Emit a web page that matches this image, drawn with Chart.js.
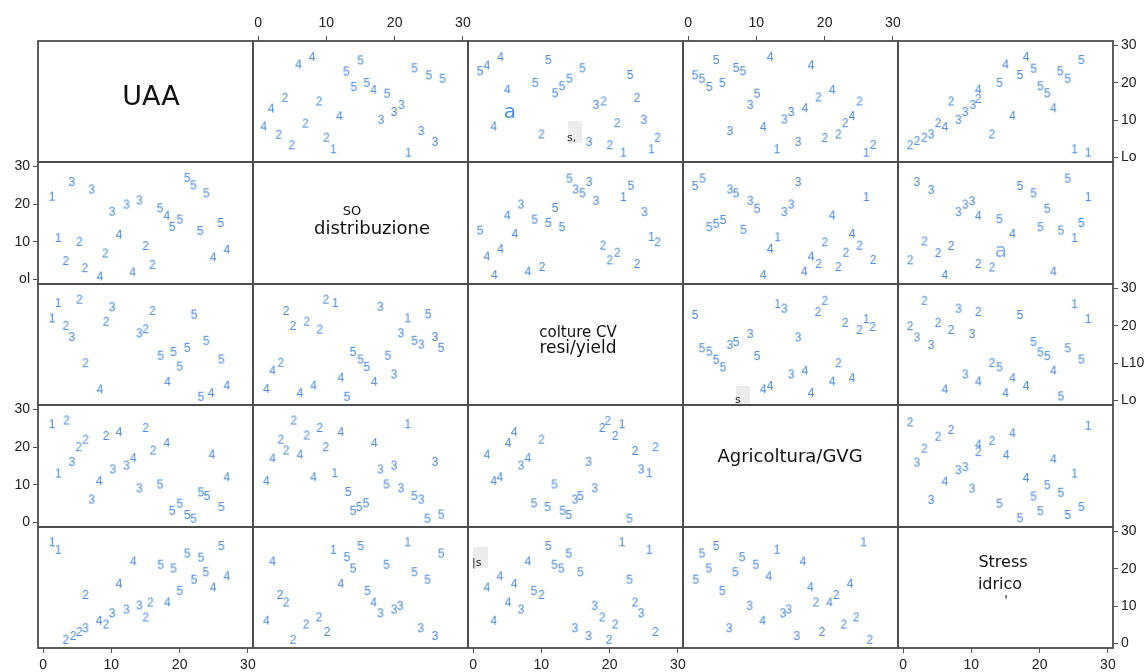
<!DOCTYPE html>
<html>
<head>
<meta charset="utf-8">
<script src="https://cdn.jsdelivr.net/npm/chart.js@4.4.0/dist/chart.umd.min.js"></script>
<style>
  body { margin: 0; background: #fff; width: 1145px; height: 672px; overflow: hidden; position: relative; }
  canvas { position: absolute; }
</style>
</head>
<body>
<script>
// scatterplot matrix: each point is drawn as its group digit (1-5)
const tickValues = [0, 10, 20, 30];
const bottomTicks = ['0', '10', '20', '30'];
const topTicks = ['0', '10', '20', '30'];
const rightTicks = [['Lo', '10', '20', '30'], null, ['Lo', 'L10', '20', '30'], null, ['0', '10', '20', '30']];
const leftTicks = [null, ['ol', '10', '20', '30'], null, ['0', '10', '20', '30'], null];

// upper panels, [x = column variable, y = row variable, group]
const uaaDistr = [[5.9,24.9,4],[7.9,26.9,4],[15.0,26.0,5],[12.9,23.0,5],[14.0,18.9,5],[15.9,20.0,5],[16.9,18.1,4],[18.9,17.1,5],[22.9,23.9,5],[25.0,22.0,5],[27.0,21.1,5],[3.9,16.0,2],[8.9,15.0,2],[1.9,13.1,4],[11.9,11.1,4],[18.0,10.1,3],[19.9,12.2,3],[21.0,14.1,3],[6.9,9.1,2],[0.8,8.3,4],[3.0,6.1,2],[4.9,3.3,2],[10.0,5.3,2],[11.0,2.2,1],[23.9,7.1,3],[25.9,4.2,3],[22.0,1.3,1]];
const uaaColture = [[1.0,23.1,5],[2.0,24.6,4],[4.0,26.9,4],[5.0,18.2,4],[11.0,26.1,5],[9.1,20.0,5],[16.0,23.9,5],[14.1,21.1,5],[13.0,19.1,5],[12.0,17.2,5],[23.0,22.1,5],[18.0,14.1,3],[19.1,15.0,2],[24.0,16.0,2],[25.0,10.1,3],[21.1,9.2,2],[3.0,8.3,4],[10.0,6.2,2],[17.0,4.2,3],[20.0,3.3,2],[22.0,1.3,1],[26.1,2.2,1],[27.0,5.3,2]];
const uaaAgri = [[4.1,26.1,5],[1.0,22.0,5],[2.0,21.1,5],[3.1,18.9,5],[5.0,20.0,5],[7.0,24.0,5],[8.0,23.1,5],[12.0,26.9,4],[18.0,24.7,4],[10.1,17.1,5],[9.1,14.1,3],[21.1,18.1,4],[19.1,16.1,2],[25.1,15.0,2],[17.1,13.2,4],[15.1,12.2,3],[14.1,10.2,3],[24.0,11.1,4],[23.0,9.2,2],[22.0,6.2,2],[20.0,5.2,2],[6.1,7.1,3],[11.0,8.2,4],[16.1,4.2,3],[13.0,2.2,1],[26.1,1.3,1],[27.1,3.4,2]];
const uaaStress = [[1.0,3.3,2],[2.0,4.4,2],[3.1,5.3,2],[4.1,6.2,3],[5.1,9.2,2],[6.1,8.2,4],[8.1,10.1,3],[9.1,12.2,3],[10.2,14.1,3],[11.0,15.7,2],[11.0,18.2,4],[7.0,15.0,2],[14.1,20.0,5],[15.0,24.9,4],[17.1,22.1,5],[18.0,26.9,4],[19.1,23.8,5],[20.1,19.1,5],[21.1,17.2,5],[23.0,23.1,5],[24.1,21.1,5],[26.1,26.1,5],[22.0,13.2,4],[16.0,11.1,4],[13.0,6.2,2],[25.1,2.2,1],[27.1,1.3,1]];
const distrColture = [[14.1,26.8,5],[17.0,25.9,3],[15.0,23.9,3],[16.0,22.9,5],[18.0,20.9,3],[22.0,21.9,1],[23.1,24.9,5],[25.1,17.9,3],[7.0,19.9,3],[5.0,17.0,4],[12.0,19.0,5],[9.0,15.9,5],[11.0,15.0,5],[13.0,13.9,5],[1.0,13.0,5],[6.1,12.1,4],[4.0,8.1,4],[2.0,6.1,4],[3.1,1.2,4],[8.0,2.1,4],[10.1,3.3,2],[19.0,9.0,2],[21.1,7.1,2],[20.0,5.1,2],[24.0,4.1,2],[26.1,11.3,1],[27.0,9.9,2]];
const distrAgri = [[1.0,24.8,5],[2.1,26.8,5],[6.1,23.9,3],[7.0,22.9,5],[9.1,20.9,3],[10.1,18.8,5],[16.1,25.9,3],[14.1,17.9,3],[15.1,19.9,3],[3.1,13.9,5],[4.1,14.8,5],[5.1,15.8,5],[8.1,13.2,5],[13.1,11.2,1],[12.0,8.1,4],[11.0,1.2,4],[21.1,17.0,4],[26.1,21.9,1],[20.0,9.9,2],[24.0,12.1,4],[25.1,9.0,2],[23.1,7.1,2],[18.0,6.1,4],[19.1,4.1,2],[22.0,3.3,2],[27.1,5.2,2],[17.0,2.1,4]];
const distrStress = [[2.0,25.9,3],[4.1,23.8,3],[8.1,17.9,3],[9.1,19.9,3],[10.1,20.8,3],[11.0,16.9,4],[14.1,16.0,5],[17.1,24.8,5],[19.1,22.9,5],[24.1,26.8,5],[27.1,21.9,1],[21.1,18.8,5],[20.1,13.9,5],[23.1,13.0,5],[26.1,15.0,5],[25.1,11.0,1],[16.0,12.1,4],[3.1,10.1,2],[5.1,7.0,2],[7.0,8.9,2],[1.0,5.1,2],[11.0,4.1,2],[13.0,3.2,2],[6.1,1.2,4],[22.0,2.1,4]];
const coltureAgri = [[1.0,22.9,5],[13.1,25.8,1],[14.1,24.6,3],[20.0,26.7,2],[19.0,23.7,2],[23.0,20.8,2],[25.1,18.9,2],[26.1,21.8,1],[27.0,19.7,2],[9.1,17.8,3],[6.1,14.9,3],[7.0,15.7,5],[16.1,16.9,3],[2.0,14.0,5],[3.1,13.1,5],[4.1,10.9,5],[5.1,8.9,5],[10.1,11.9,5],[15.1,7.0,3],[17.1,8.0,4],[22.0,10.0,2],[24.0,6.0,4],[21.1,5.1,4],[18.0,2.0,4],[11.0,3.0,4],[12.0,3.9,4]];
const coltureStress = [[3.1,26.7,2],[8.1,24.6,3],[11.0,23.7,2],[17.1,22.9,5],[25.1,25.8,1],[27.1,21.8,1],[1.0,19.9,2],[5.1,20.8,2],[7.0,18.9,2],[2.0,16.9,3],[4.1,14.9,3],[10.1,17.8,3],[19.1,15.7,5],[20.1,12.9,5],[21.1,11.9,5],[24.1,14.0,5],[26.1,11.0,5],[13.0,10.0,2],[14.1,8.9,5],[22.0,8.0,4],[9.1,7.0,3],[11.0,5.1,4],[16.0,6.0,4],[18.0,3.9,4],[6.1,3.0,4],[15.0,2.0,4],[23.1,1.1,5]];
const agriStress = [[1.0,26.6,2],[5.1,22.8,2],[7.0,24.6,2],[3.1,19.6,2],[2.0,15.9,3],[11.0,20.7,4],[11.0,18.7,2],[13.0,21.7,2],[16.0,23.7,4],[15.1,17.9,4],[8.1,13.9,3],[9.1,14.7,3],[6.1,10.9,4],[10.1,9.0,3],[4.1,6.0,3],[27.1,25.7,1],[22.0,16.8,4],[25.1,13.0,1],[18.0,11.8,4],[21.1,9.9,5],[23.1,7.9,5],[19.1,6.9,5],[14.1,5.0,5],[20.1,3.0,5],[17.1,1.1,5],[24.1,2.0,5],[26.1,4.1,5]];

const upper = {
  '0-1': uaaDistr, '0-2': uaaColture, '0-3': uaaAgri, '0-4': uaaStress,
  '1-2': distrColture, '1-3': distrAgri, '1-4': distrStress,
  '2-3': coltureAgri, '2-4': coltureStress, '3-4': agriStress
};
const groups = [1, 2, 3, 4, 5];

// layout
const colX = [38, 253, 468, 683, 898, 1113];
const rowY = [41, 162, 284, 405, 527, 648];
const M = 40;
const xRange = [-0.75, 30.75];
const yRange = [-1.2, 31.2];
const pointColor = '#4a8ad8';
const tickFont = { family: '"Liberation Sans", Arial, sans-serif', size: 14 };
const labelFont = '"DejaVu Sans", sans-serif';

const diagLabels = [
  [{ t: 'UAA', x: 113, y: 57, size: 27 }],
  [{ t: 'SO', x: 99, y: 50, size: 13 }, { t: 'distribuzione', x: 119, y: 67, size: 18 }],
  [{ t: 'colture CV', x: 110, y: 49, size: 15 }, { t: 'resi/yield', x: 110, y: 65, size: 17 }],
  [{ t: 'Agricoltura/GVG', x: 107, y: 52, size: 18 }],
  [{ t: 'Stress', x: 105, y: 36, size: 16 }, { t: 'idrico', x: 102, y: 58, size: 16 }, { t: "'", x: 108, y: 74, size: 13 }]
];

// stray marks seen on the picture (panel relative)
const extras = {
  '0-2': [{ box: [100, 80, 14, 22] }, { t: 'a', x: 42, y: 72, size: 20, color: '#4a90e2' }, { t: 's,', x: 99, y: 97, size: 11, color: '#222', align: 'left' }],
  '1-4': [{ t: 'a', x: 103, y: 90, size: 20, color: '#7fb0ee' }],
  '2-3': [{ box: [53, 102, 14, 19] }, { t: 's', x: 52, y: 116, size: 11, color: '#222', align: 'left' }],
  '4-2': [{ box: [5, 20, 15, 21] }, { t: '|s', x: 4, y: 36, size: 11, color: '#222', align: 'left' }]
};

const digitImgs = {};
groups.forEach(g => {
  const c = document.createElement('canvas');
  c.width = 10; c.height = 14;
  const cx = c.getContext('2d');
  cx.font = '12px "Liberation Sans", Arial, sans-serif';
  cx.fillStyle = pointColor;
  cx.textAlign = 'center';
  cx.textBaseline = 'middle';
  cx.fillText(String(g), 5, 7.5);
  digitImgs[g] = c;
});

function scaleCfg(pos, range, labels) {
  const show = !!labels;
  const vertical = pos === 'left' || pos === 'right';
  return {
    type: 'linear', position: pos, axis: vertical ? 'y' : 'x',
    min: range[0], max: range[1],
    afterBuildTicks: s => { s.ticks = tickValues.map(v => ({ value: v })); },
    afterFit: s => { if (vertical) s.width = M; else s.height = M; },
    grid: { display: show, drawOnChartArea: false, drawTicks: true, tickLength: 5, color: '#555', lineWidth: 1 },
    border: { display: false },
    ticks: {
      display: show, autoSkip: false, maxRotation: 0, color: '#222', font: tickFont,
      padding: vertical ? 3 : 4,
      callback: (v, i) => labels ? labels[i] : ''
    }
  };
}

const panelPlugin = {
  id: 'panel',
  afterDraw(chart) {
    const { ctx, chartArea: a } = chart;
    const o = chart.options.plugins.panel;
    ctx.save();
    (o.extras || []).forEach(e => {
      if (e.box) {
        ctx.fillStyle = '#ececec';
        ctx.fillRect(a.left + e.box[0], a.top + e.box[1], e.box[2], e.box[3]);
      } else {
        ctx.fillStyle = e.color;
        ctx.font = e.size + 'px ' + labelFont;
        ctx.textAlign = e.align || 'center';
        ctx.textBaseline = 'middle';
        ctx.fillText(e.t, a.left + e.x, a.top + e.y);
      }
    });
    (o.labels || []).forEach(l => {
      ctx.fillStyle = '#111';
      ctx.font = l.size + 'px ' + labelFont;
      ctx.textAlign = 'center';
      ctx.textBaseline = 'middle';
      ctx.fillText(l.t, a.left + l.x, a.top + l.y);
    });
    ctx.strokeStyle = '#4d4d4d';
    ctx.lineWidth = 1.8;
    ctx.strokeRect(a.left, a.top, a.right - a.left, a.bottom - a.top);
    ctx.restore();
  }
};

function makePanel(r, c) {
  const L = colX[c], T = rowY[r], W = colX[c + 1] - L, H = rowY[r + 1] - T;
  const cv = document.createElement('canvas');
  cv.width = W + 2 * M; cv.height = H + 2 * M;
  cv.style.left = (L - M) + 'px'; cv.style.top = (T - M) + 'px';
  cv.style.width = (W + 2 * M) + 'px'; cv.style.height = (H + 2 * M) + 'px';
  document.body.appendChild(cv);

  let pts = [];
  if (r < c) pts = upper[r + '-' + c];
  else if (r > c) pts = upper[c + '-' + r].map(p => [p[1], p[0], p[2]]);

  const datasets = groups.map(g => ({
    label: String(g),
    xAxisID: 'x', yAxisID: 'y',
    data: pts.filter(p => p[2] === g).map(p => ({ x: p[0], y: p[1] })),
    pointStyle: digitImgs[g], pointRadius: 4, pointHoverRadius: 4
  }));

  new Chart(cv, {
    type: 'scatter',
    data: { datasets },
    options: {
      responsive: false, animation: false, events: [], devicePixelRatio: 1,
      layout: { padding: 0 },
      plugins: {
        legend: { display: false }, tooltip: { enabled: false },
        panel: { labels: r === c ? diagLabels[r] : [], extras: extras[r + '-' + c] }
      },
      scales: {
        x: scaleCfg('bottom', xRange, r === 4 && c % 2 === 0 ? bottomTicks : null),
        xt: scaleCfg('top', xRange, r === 0 && c % 2 === 1 ? topTicks : null),
        y: scaleCfg('left', yRange, c === 0 ? leftTicks[r] : null),
        yr: scaleCfg('right', yRange, c === 4 ? rightTicks[r] : null)
      }
    },
    plugins: [panelPlugin]
  });
}

for (let r = 0; r < 5; r++) for (let c = 0; c < 5; c++) makePanel(r, c);
</script>
</body>
</html>
